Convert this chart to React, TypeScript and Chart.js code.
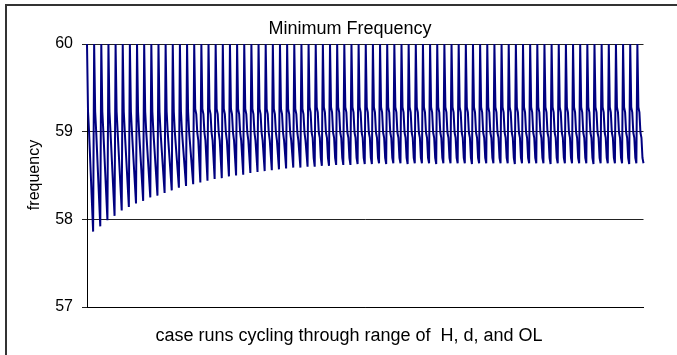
import { useEffect, useRef } from "react";
import { Chart, registerables } from "chart.js";

Chart.register(...registerables);

const chartTitle = "Minimum Frequency";
const yAxisTitle = "frequency";
const xAxisTitle = "case runs cycling through range of  H, d, and OL";
const yMin = 57;
const yMax = 60;
const yStep = 1;

// Trace of a single run after the disturbance: 60 Hz peak, shoulder and knee levels.
// null points are bridged by a straight segment down to the run minimum.
const earlyRunProfile = [60, 59.23, 59.0, null, null, null];
const middleRunProfile = [60, 59.26, 59.2, 58.99, 58.9, null];
const lateRunProfile = [60, 59.28, 59.22, 58.99, 58.93, 58.7];
const firstMiddleRun = 15;
const firstLateRun = 31;

// Lowest frequency reached in each case run
const runMinimum = [
  57.86, 57.92, 57.99, 58.04, 58.1, 58.14, 58.18, 58.21, 58.25, 58.27,
  58.3, 58.33, 58.36, 58.38, 58.4, 58.42, 58.44, 58.46, 58.47, 58.49,
  58.5, 58.51, 58.53, 58.54, 58.55, 58.56, 58.57, 58.58, 58.59, 58.59,
  58.6, 58.6, 58.61, 58.61, 58.62, 58.62, 58.62, 58.63, 58.63, 58.63,
  58.64, 58.63, 58.64, 58.64, 58.63, 58.64, 58.64, 58.64, 58.63, 58.64,
  58.64, 58.64, 58.64, 58.63, 58.64, 58.64, 58.64, 58.64, 58.64, 58.63,
  58.64, 58.64, 58.64, 58.64, 58.63, 58.64, 58.64, 58.64, 58.64, 58.64,
  58.63, 58.64, 58.64, 58.64, 58.64, 58.63, 58.64, 58.64,
];

const FONT = "'Liberation Sans', Arial, Helvetica, sans-serif";

function buildSeries(): (number | null)[] {
  const out: (number | null)[] = [];
  runMinimum.forEach((minimum, run) => {
    const profile =
      run >= firstLateRun ? lateRunProfile : run >= firstMiddleRun ? middleRunProfile : earlyRunProfile;
    out.push(...profile, minimum);
  });
  return out;
}

const textPlugin = {
  id: "chartTexts",
  afterDraw(chart: Chart) {
    const { ctx } = chart;
    ctx.save();
    ctx.fillStyle = "#000";
    ctx.textBaseline = "middle";
    ctx.textAlign = "center";
    ctx.font = `18px ${FONT}`;
    ctx.fillText(chartTitle, 350, 29);
    ctx.font = `18px ${FONT}`;
    ctx.fillText(xAxisTitle, 349, 336);
    ctx.font = `16px ${FONT}`;
    ctx.translate(35, 175);
    ctx.rotate(-Math.PI / 2);
    ctx.fillText(yAxisTitle, 0, 0);
    ctx.restore();
  },
};

export default function App() {
  const canvasRef = useRef<HTMLCanvasElement | null>(null);

  useEffect(() => {
    const canvas = canvasRef.current;
    if (!canvas) return;
    const series = buildSeries();
    const labels = series.map(() => "");
    const chart = new Chart(canvas, {
      type: "line",
      data: {
        labels,
        datasets: [
          {
            data: series,
            borderColor: "#000080",
            borderWidth: 2,
            pointRadius: 0,
            tension: 0,
            spanGaps: true,
            clip: false as any,
          },
        ],
      },
      options: {
        animation: false,
        responsive: false,
        devicePixelRatio: 1,
        layout: { padding: { top: 44, right: 33.5, left: 0, bottom: 0 } },
        plugins: {
          legend: { display: false },
          title: { display: false },
          tooltip: { enabled: false },
        },
        scales: {
          x: {
            type: "category",
            ticks: { display: false },
            grid: { display: false },
            border: { display: true, color: "#000", width: 1 },
            afterFit(scale: any) {
              scale.height = 48;
            },
          },
          y: {
            min: yMin,
            max: yMax,
            ticks: {
              stepSize: yStep,
              color: "#000",
              padding: 9,
              font: { family: FONT, size: 16 },
            },
            grid: { color: "#222", tickColor: "#222", tickLength: 5, lineWidth: 1 },
            border: { display: true, color: "#000", width: 1 },
            afterFit(scale: any) {
              scale.width = 87;
            },
          },
        },
      },
      plugins: [textPlugin],
    });
    return () => chart.destroy();
  }, []);

  return (
    <div
      style={{
        position: "absolute",
        left: 0,
        top: 0,
        width: 677,
        height: 355,
        background: "#fff",
        overflow: "hidden",
      }}
    >
      <div
        style={{
          position: "absolute",
          left: 5,
          top: 4,
          width: 700,
          height: 400,
          borderLeft: "2px solid #333",
          borderTop: "2px solid #333",
        }}
      />
      <canvas ref={canvasRef} width={677} height={355} style={{ position: "absolute", left: 0, top: 0 }} />
    </div>
  );
}
